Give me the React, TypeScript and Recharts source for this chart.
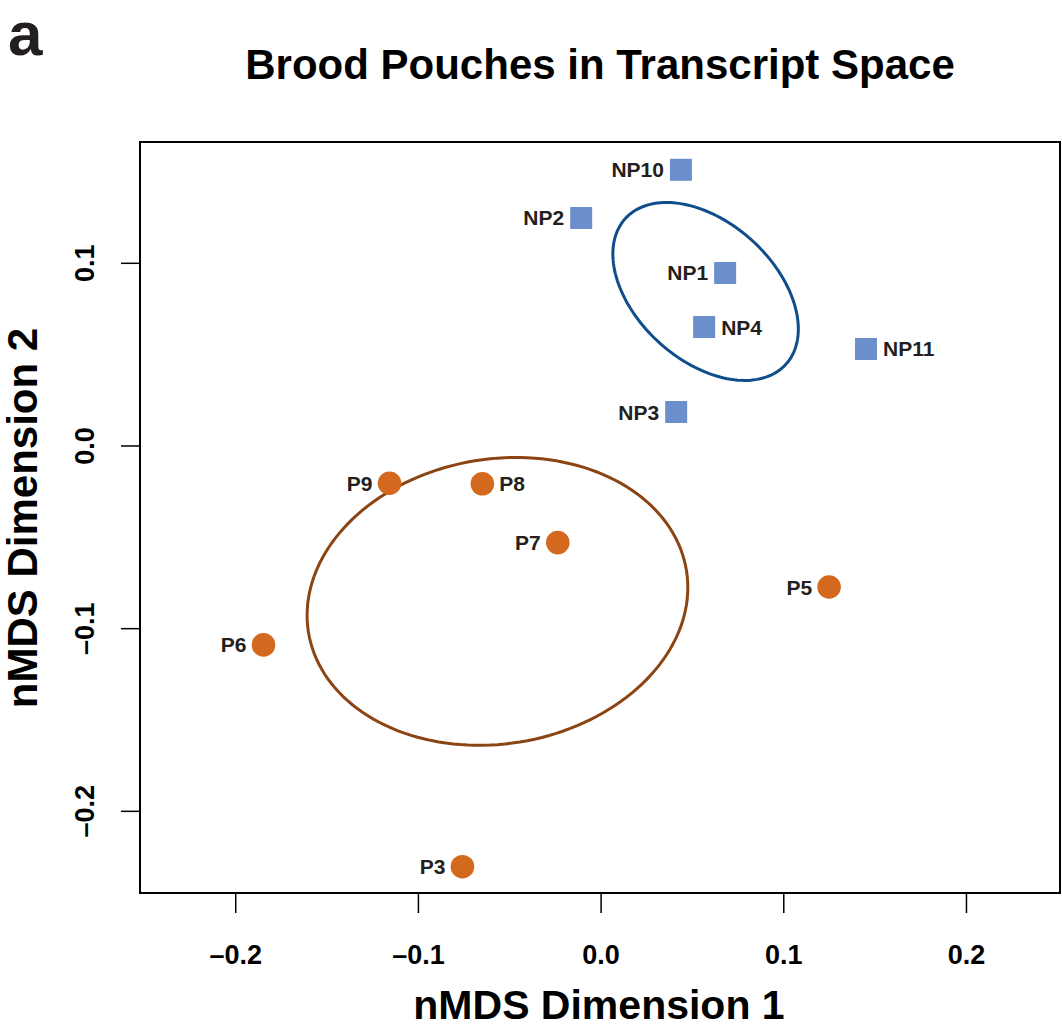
// nMDS ordination of brood pouch transcript profiles, drawn with Recharts
import React from "react";
import { ScatterChart, Scatter, XAxis, YAxis, ReferenceArea } from "recharts";

// non-pregnant pouches (squares)
const npNames = ["NP10", "NP2", "NP1", "NP4", "NP11", "NP3"];
const npDim1 = [0.0437, -0.0109, 0.0679, 0.0564, 0.145, 0.0411];
const npDim2 = [0.1512, 0.1248, 0.0947, 0.0651, 0.0531, 0.0186];

// pregnant pouches (circles)
const pNames = ["P9", "P8", "P7", "P5", "P6", "P3"];
const pDim1 = [-0.1158, -0.065, -0.0237, 0.1248, -0.1848, -0.0759];
const pDim2 = [-0.0204, -0.0207, -0.0529, -0.0772, -0.1089, -0.2303];

const labelsOnRight = ["NP4", "NP11", "P8"];

const xTicks = [-0.2, -0.1, 0, 0.1, 0.2];
const yTicks = [-0.2, -0.1, 0, 0.1];
const xDomain = [-0.2524, 0.2512];
const yDomain = [-0.2447, 0.1664];

const FONT = '"Liberation Sans", Arial, Helvetica, sans-serif';
const INK = "#231f20";

const toPoints = (names: string[], xs: number[], ys: number[]) =>
  names.map((name, i) => ({ name, x: xs[i], y: ys[i] }));

// 95% confidence ellipse of the group centroid (standard error), like vegan::ordiellipse
function seEllipse(xs: number[], ys: number[], steps = 160) {
  const n = xs.length;
  const mx = xs.reduce((a, b) => a + b, 0) / n;
  const my = ys.reduce((a, b) => a + b, 0) / n;
  let sxx = 0;
  let syy = 0;
  let sxy = 0;
  for (let i = 0; i < n; i++) {
    sxx += (xs[i] - mx) ** 2;
    syy += (ys[i] - my) ** 2;
    sxy += (xs[i] - mx) * (ys[i] - my);
  }
  const cxx = sxx / (n - 1) / n;
  const cyy = syy / (n - 1) / n;
  const cxy = sxy / (n - 1) / n;
  const a = Math.sqrt(cxx);
  const b = cxy / a;
  const c = Math.sqrt(cyy - b * b);
  const s = Math.sqrt(5.991);
  const out = [];
  for (let k = 0; k <= steps; k++) {
    const t = (2 * Math.PI * k) / steps;
    out.push({ x: mx + s * a * Math.cos(t), y: my + s * (b * Math.cos(t) + c * Math.sin(t)) });
  }
  return out;
}

const npData = toPoints(npNames, npDim1, npDim2);
const pData = toPoints(pNames, pDim1, pDim2);
const npEllipse = seEllipse(npDim1, npDim2);
const pEllipse = seEllipse(pDim1, pDim2);

const fmt = (v: number) => (v < 0 ? "\u2013" + Math.abs(v).toFixed(1) : v.toFixed(1));

function PointLabel({ cx, cy, name }: any) {
  const right = labelsOnRight.includes(name);
  return (
    <text
      x={right ? cx + 17 : cx - 17}
      y={cy + 7.5}
      textAnchor={right ? "start" : "end"}
      fontFamily={FONT}
      fontWeight="bold"
      fontSize={21}
      fill={INK}
    >
      {name}
    </text>
  );
}

const squareShape = (props: any) => {
  const { cx, cy, payload } = props;
  return (
    <g>
      <rect x={cx - 11} y={cy - 11} width={22} height={22} fill="#6b8fcc" />
      <PointLabel cx={cx} cy={cy} name={payload.name} />
    </g>
  );
};

const circleShape = (props: any) => {
  const { cx, cy, payload } = props;
  return (
    <g>
      <circle cx={cx} cy={cy} r={11.8} fill="#d2691e" />
      <PointLabel cx={cx} cy={cy} name={payload.name} />
    </g>
  );
};

const noShape = () => <g />;

const XTick = ({ x, payload }: any) => (
  <text x={x} y={964} textAnchor="middle" fontFamily={FONT} fontWeight="bold" fontSize={27} fill="#000">
    {fmt(payload.value)}
  </text>
);

const YTick = ({ y, payload }: any) => (
  <text
    x={94}
    y={y}
    transform={`rotate(-90, 94, ${y})`}
    textAnchor="middle"
    fontFamily={FONT}
    fontWeight="bold"
    fontSize={27}
    fill="#000"
  >
    {fmt(payload.value)}
  </text>
);

export default function App() {
  return (
    <div style={{ position: "absolute", left: 0, top: 0, width: 1062, height: 1029, background: "#fff" }}>
      <ScatterChart width={1062} height={1029} margin={{ top: 142, right: 2, bottom: 76, left: 80 }}>
        <XAxis
          type="number"
          dataKey="x"
          domain={xDomain}
          ticks={xTicks}
          allowDataOverflow
          axisLine={false}
          tickSize={20}
          tickLine={{ stroke: "#000", strokeWidth: 1.5 }}
          tick={<XTick />}
          height={60}
        />
        <YAxis
          type="number"
          dataKey="y"
          domain={yDomain}
          ticks={yTicks}
          allowDataOverflow
          axisLine={false}
          tickSize={19}
          tickLine={{ stroke: "#000", strokeWidth: 1.5 }}
          tick={<YTick />}
          width={60}
        />
        <ReferenceArea
          x1={xDomain[0]}
          x2={xDomain[1]}
          y1={yDomain[0]}
          y2={yDomain[1]}
          fill="none"
          stroke="#000"
          strokeWidth={2}
          ifOverflow="visible"
        />
        <Scatter
          data={npEllipse}
          line={{ stroke: "#104e8b", strokeWidth: 3 }}
          lineType="joint"
          shape={noShape}
          isAnimationActive={false}
        />
        <Scatter
          data={pEllipse}
          line={{ stroke: "#8b4513", strokeWidth: 3 }}
          lineType="joint"
          shape={noShape}
          isAnimationActive={false}
        />
        <Scatter data={npData} shape={squareShape} isAnimationActive={false} />
        <Scatter data={pData} shape={circleShape} isAnimationActive={false} />
      </ScatterChart>
      <svg
        width={1062}
        height={1029}
        style={{ position: "absolute", left: 0, top: 0, pointerEvents: "none" }}
      >
        <text x={8} y={55} fontFamily={FONT} fontWeight="bold" fontSize={62} fill={INK}>
          a
        </text>
        <text x={600} y={79} textAnchor="middle" fontFamily={FONT} fontWeight="bold" fontSize={42} fill="#000">
          Brood Pouches in Transcript Space
        </text>
        <text x={599} y={1019} textAnchor="middle" fontFamily={FONT} fontWeight="bold" fontSize={41} fill="#000">
          nMDS Dimension 1
        </text>
        <text
          x={37}
          y={518}
          transform="rotate(-90, 37, 518)"
          textAnchor="middle"
          fontFamily={FONT}
          fontWeight="bold"
          fontSize={42}
          fill="#000"
        >
          nMDS Dimension 2
        </text>
      </svg>
    </div>
  );
}
